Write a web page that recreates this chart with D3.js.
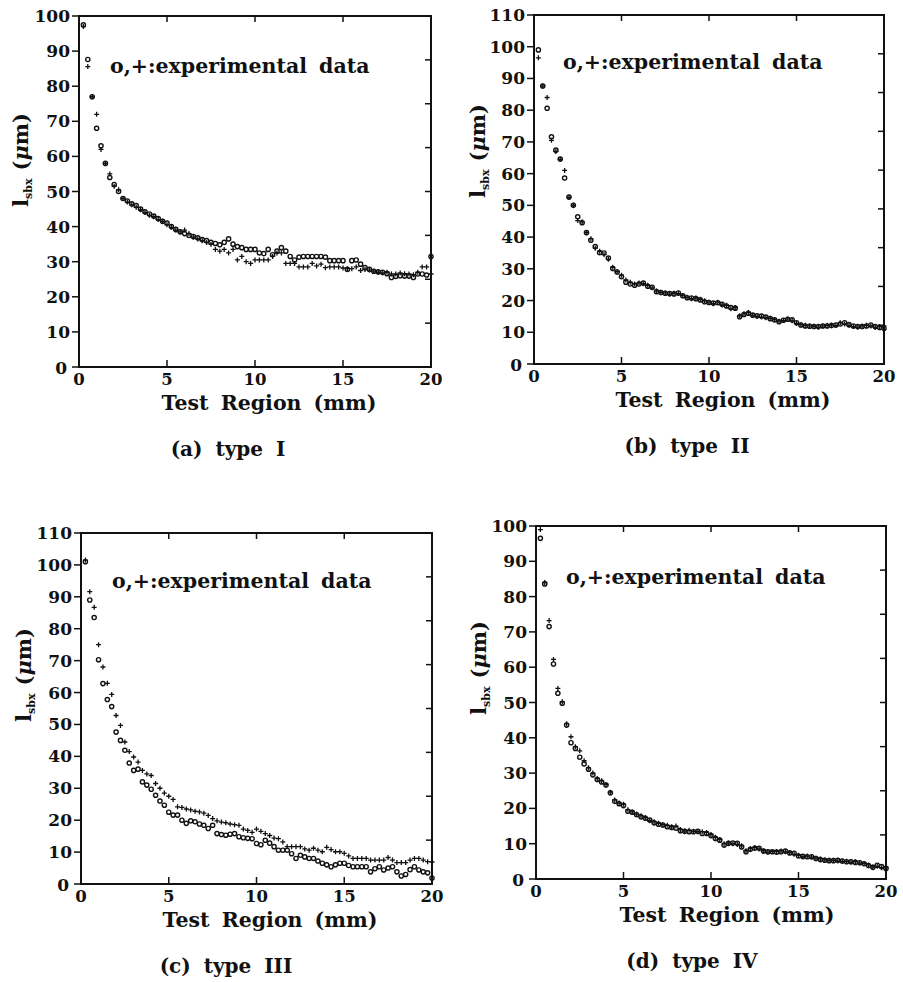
<!DOCTYPE html>
<html>
<head>
<meta charset="utf-8">
<script src="https://cdn.jsdelivr.net/npm/d3@7"></script>
<style>
  body { margin: 0; background: #fff; }
  text { font-family: "DejaVu Serif", "Liberation Serif", serif; font-weight: bold; fill: #111; }
</style>
</head>
<body>
<div id="chart"></div>
<script>
// sampling positions along the test region (mm)
const positions = [0.25,0.5,0.75,1,1.25,1.5,1.75,2,2.25,2.5,2.75,3,3.25,3.5,3.75,4,4.25,4.5,4.75,5,
  5.25,5.5,5.75,6,6.25,6.5,6.75,7,7.25,7.5,7.75,8,8.25,8.5,8.75,9,9.25,9.5,9.75,10,
  10.25,10.5,10.75,11,11.25,11.5,11.75,12,12.25,12.5,12.75,13,13.25,13.5,13.75,14,14.25,14.5,14.75,15,
  15.25,15.5,15.75,16,16.25,16.5,16.75,17,17.25,17.5,17.75,18,18.25,18.5,18.75,19,19.25,19.5,19.75,20];

const xTicks = [0, 5, 10, 15, 20];

// (a) type I
const typeI_o = [97.5,87.6,77,68,63,58,54,52,50,48,47.3,46.5,46,45,44.2,43.6,43,42.3,41.5,41,
  40,39.2,38.5,38,37.5,37.2,36.8,36.3,36,35.5,35.2,34.8,35.5,36.5,35,34.3,34,33.5,33.5,33.5,
  32.5,32.3,33.5,32,33,34,33,31.5,30.5,31.3,31.5,31.5,31.5,31.5,31.5,31.3,30.3,30.3,30.3,30.3,
  27.8,30.3,30.5,29.3,28.3,27.8,27.3,27.1,27,26.6,25.5,25.8,26,25.9,25.9,25.5,26.5,26.5,26.2,31.5];
const typeI_plus = [97,85.6,77,72,62,58,55,51.5,50.5,48,47,46.2,45.5,44.8,44,43.2,42.8,42,41.5,40.5,
  39.8,39,38.5,39,38,37,36.5,36,35.5,35,33.5,33,33.5,32.5,33.5,30.5,31.5,30,29.5,30.5,
  30.5,30.5,30.5,31.5,32.5,32.5,29.5,29.5,29.5,28.5,28.5,28.5,29.5,28.8,29.3,28.3,28.5,28.5,28.5,28.2,
  28,28,28.5,27.5,27.8,27.6,27.3,27,26.8,27,26.5,26.5,26.8,26.6,26.5,26.3,27,28.5,28.5,26.5];

// (b) type II
const typeII_o = [99,87.6,80.6,71.6,67.4,64.6,58.6,52.6,50,46.4,44.5,41.4,39,37,35.1,35,33.4,30.1,29,27.5,
  25.8,25.2,24.8,25.2,25.5,24.5,24.2,22.8,22.5,22.3,22.2,22.1,22.4,21.5,20.9,20.8,20.6,20.2,19.6,19.4,
  19.2,19.3,18.8,18.3,17.8,17.6,14.9,15.6,16,15.4,15.2,15.1,14.8,14.3,13.9,13.3,13.8,14.1,13.9,13,
  12.3,12,11.9,11.8,11.8,12,12,12.1,12.3,12.6,13,12.4,12,11.8,11.8,12,12.3,11.8,11.5,11.2];
const typeII_plus = [96.5,87.6,84,70.5,67,64.5,61,52.5,50,45.2,44.8,41.4,39.5,36.5,35.5,34.5,33,30.5,29.1,28,
  26.5,25.8,25.2,25.5,25.3,24.8,24,23,22.6,22.4,22,22.3,22.2,21.6,21,20.6,20.8,20.4,19.9,19.5,
  19,19.5,18.6,18.5,17.4,17.8,15.2,15.8,16.2,15.3,15,14.8,14.6,14.4,14,13.5,13.7,14.2,13.6,12.8,
  12.4,12.2,12,11.9,11.6,12,12.2,12.3,12.1,13,12.6,12.2,11.8,11.6,12,12.2,12,11.5,11.8,12];

// (c) type III
const typeIII_o = [101,89,83.5,70.3,62.8,57.8,55.6,47.6,45,41.9,37.9,35.6,36,32,31,29.7,27.8,26,24.7,22.5,
  21.6,21.6,20,19,19.8,19.5,18.8,18.4,17.4,18.4,15.8,15.5,15.3,15.6,15.8,14.8,14.5,14.3,14.2,12.7,
  12.3,13.7,12.8,11.7,10.6,10.6,10.6,9.5,8,9,8.5,8,8,7.2,6.5,6,5.4,6,6.5,6.5,
  5.8,5.4,5.4,5.4,5.4,3.8,4.8,5.4,4.4,5,5.4,3.8,2.5,3,4.5,5.4,4.4,3.8,3.5,1.9];
const typeIII_plus = [101.5,91.6,86.7,75,68,62.9,59.4,52.8,49.7,44.5,41.5,39.8,38.2,35.6,34.5,34,31.5,30,28.5,27.5,
  26.5,24.2,24,23.5,23.2,22.8,22.6,22.2,21.5,20.5,19.8,19.4,19.2,18.8,18.6,18.4,17.2,16.8,16.2,17.2,
  16.5,15.8,15.2,14.4,14.2,13.2,11.7,11.7,11.7,11.7,11,10.6,11.2,10.6,10.1,11.5,10.8,10.1,10.1,9.6,
  8.8,8,8,8,8,7.5,7.5,7.5,7.5,8.3,7.5,6.7,6.7,6.7,7.5,8,8,7.5,7,6.9];

// (d) type IV
const typeIV_o = [96.5,83.6,71.5,60.9,52.6,49.8,43.6,38.6,37,34.5,32.6,31.1,29.5,28.2,27.5,26.6,24.4,22,21.3,20.8,
  19.2,18.9,18.2,17.6,17.2,16.7,15.9,15.5,15.3,14.8,14.6,14.4,13.7,13.5,13.4,13.4,13.5,12.9,12.9,12.3,
  11.5,11,9.6,10.1,10.2,10.1,9.1,7.7,8.4,8.7,8.7,7.9,7.7,7.7,7.6,7.7,7.9,7.4,7.3,6.5,
  6.4,6.3,6.3,5.8,5.5,5.3,5.2,5.2,5.3,5.1,4.9,4.9,4.7,4.6,4.3,3.8,3.3,3.9,3.5,3];
const typeIV_plus = [99,84,73.2,62.2,54,50.2,44,40.3,37.5,36.3,33.5,31.5,30,28.5,27.8,26.8,24.6,22.4,21.5,21.2,
  19.6,19,18.4,17.9,17.4,16.5,16.2,15.8,15.4,15.2,14.8,15,14,13.6,13.8,13.5,13.4,13.4,13.2,12.6,
  11.8,11.2,10,10.2,10,9.8,9.4,8,8.6,8.9,8.5,8,7.6,7.8,7.8,7.9,7.7,7.5,7,6.7,
  6.3,6.5,6.2,5.9,5.7,5.4,5.3,5.3,5.1,5,5,4.8,4.9,4.5,4.4,4,3.4,3.6,3.2,3.3];

const panels = [
  { o: typeI_o, plus: typeI_plus, ymax: 100, caption: "(a) type I",
    left: 79, right: 431, top: 16, bottom: 367, rightDiv: 8,
    titleX: 269, capX: 228, labX: 20, labY: 160, legX: 110, legY: 73 },
  { o: typeII_o, plus: typeII_plus, ymax: 110, caption: "(b) type II",
    left: 534, right: 884, top: 15, bottom: 364, rightDiv: 9,
    titleX: 723, capX: 687, labX: 477, labY: 151, legX: 563, legY: 69 },
  { o: typeIII_o, plus: typeIII_plus, ymax: 110, caption: "(c) type III",
    left: 81, right: 432, top: 533, bottom: 884, rightDiv: 8,
    titleX: 270, capX: 226, labX: 23, labY: 675, legX: 112, legY: 588 },
  { o: typeIV_o, plus: typeIV_plus, ymax: 100, caption: "(d) type IV",
    left: 536, right: 886, top: 526, bottom: 879, rightDiv: 8,
    titleX: 727, capX: 692, labX: 478, labY: 668, legX: 566, legY: 584 }
];

const svg = d3.select("#chart").append("svg")
  .attr("width", 903)
  .attr("height", 982);

panels.forEach(p => {
  const x = d3.scaleLinear().domain([0, 20]).range([p.left, p.right]);
  const y = d3.scaleLinear().domain([0, p.ymax]).range([p.bottom, p.top]);
  const g = svg.append("g");

  // frame
  g.append("rect")
    .attr("x", p.left).attr("y", p.top)
    .attr("width", p.right - p.left).attr("height", p.bottom - p.top)
    .attr("fill", "none").attr("stroke", "#111").attr("stroke-width", 2);

  // left axis (ticks outward)
  const yTicks = d3.range(0, p.ymax + 1, 10);
  g.selectAll(".yt").data(yTicks).enter().append("line")
    .attr("x1", p.left - 7).attr("x2", p.left)
    .attr("y1", d => y(d)).attr("y2", d => y(d))
    .attr("stroke", "#111").attr("stroke-width", 1.5);
  g.selectAll(".yl").data(yTicks).enter().append("text")
    .attr("x", d => d === 0 ? p.left - 12 : p.left - 9)
    .attr("y", d => y(d) + (d === 0 ? 7 : 6))
    .attr("text-anchor", "end")
    .attr("font-size", 17)
    .text(d => d);

  // right side ticks (inward)
  const rTicks = d3.range(1, p.rightDiv).map(k => p.ymax * k / p.rightDiv);
  g.selectAll(".rt").data(rTicks).enter().append("line")
    .attr("x1", p.right - 6).attr("x2", p.right)
    .attr("y1", d => y(d)).attr("y2", d => y(d))
    .attr("stroke", "#111").attr("stroke-width", 1.5);

  // bottom and top ticks (inward)
  const inner = xTicks.slice(1, -1);
  g.selectAll(".bt").data(inner).enter().append("line")
    .attr("x1", d => x(d)).attr("x2", d => x(d))
    .attr("y1", p.bottom).attr("y2", p.bottom - 7)
    .attr("stroke", "#111").attr("stroke-width", 1.5);
  g.selectAll(".tt").data(inner).enter().append("line")
    .attr("x1", d => x(d)).attr("x2", d => x(d))
    .attr("y1", p.top).attr("y2", p.top + 6)
    .attr("stroke", "#111").attr("stroke-width", 1.5);
  g.selectAll(".xl").data(xTicks).enter().append("text")
    .attr("x", d => x(d))
    .attr("y", p.bottom + 18)
    .attr("text-anchor", "middle")
    .attr("font-size", 16.5)
    .text(d => d);

  // axis titles and caption
  g.append("text")
    .attr("x", p.titleX).attr("y", p.bottom + 43)
    .attr("text-anchor", "middle")
    .attr("font-size", 20.5)
    .attr("word-spacing", 5)
    .text("Test Region (mm)");

  g.append("text")
    .attr("x", p.capX).attr("y", p.bottom + 89)
    .attr("text-anchor", "middle")
    .attr("font-size", 20)
    .attr("word-spacing", 6)
    .text(p.caption);

  const yl = g.append("text")
    .attr("transform", `translate(${p.labX + 8},${p.labY}) rotate(-90)`)
    .attr("text-anchor", "middle")
    .attr("font-size", 21);
  yl.append("tspan").text("l");
  yl.append("tspan").attr("font-size", 11).attr("dy", 4).text("sbx");
  yl.append("tspan").attr("dy", -4).attr("dx", 8).text("(");
  yl.append("tspan").attr("font-style", "italic").text("μ");
  yl.append("tspan").text("m)");

  // legend text
  g.append("text")
    .attr("x", p.legX).attr("y", p.legY)
    .attr("font-size", 20.5)
    .attr("word-spacing", 5)
    .text("o,+:experimental data");

  // data
  const pts = positions.map((d, i) => ({ x: d, o: p.o[i], plus: p.plus[i] }));
  g.selectAll(".pc").data(pts).enter().append("circle")
    .attr("cx", d => x(d.x)).attr("cy", d => y(d.o))
    .attr("r", 2.1)
    .attr("fill", "none").attr("stroke", "#111").attr("stroke-width", 1.4);
  g.selectAll(".pp").data(pts).enter().append("path")
    .attr("transform", d => `translate(${x(d.x)},${y(d.plus)})`)
    .attr("d", "M-2.5,0H2.5M0,-2.5V2.5")
    .attr("stroke", "#111").attr("stroke-width", 1.3);
});
</script>
</body>
</html>
